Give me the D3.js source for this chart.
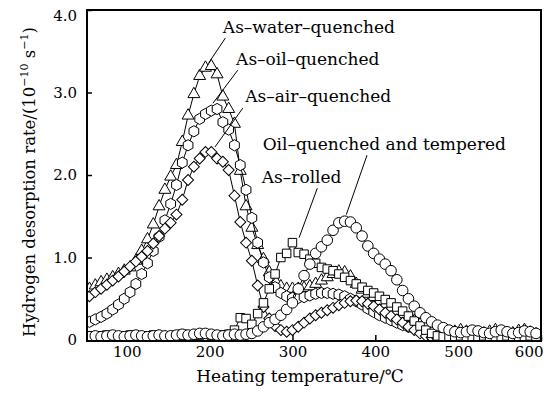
<!DOCTYPE html>
<html>
<head>
<meta charset="utf-8">
<script src="https://cdn.jsdelivr.net/npm/d3@7"></script>
<style>
  body { margin: 0; background: #fff; }
  text { font-family: "DejaVu Serif", serif; fill: #000; }
</style>
</head>
<body>
<div id="container"></div>
<script>
/* CONSTANTS AND GLOBALS */
const width = 544,
  height = 396,
  margin = { top: 10, bottom: 56, left: 87, right: 3 };

/* DATA */
const temps = [
  55, 62, 69, 76, 83, 90, 97, 104, 111, 118,
  125, 132, 139, 146, 153, 160, 167, 174, 181, 188,
  195, 202, 209, 216, 223, 230, 237, 244, 251, 258,
  265, 272, 279, 286, 293, 300, 307, 314, 321, 328,
  335, 342, 349, 356, 363, 370, 377, 384, 391, 398,
  405, 412, 419, 426, 433, 440, 447, 454, 461, 468,
  475, 482, 489, 496, 503, 510, 517, 524, 531, 538,
  545, 552, 559, 566, 573, 580, 587, 594
];

const waterQuenched = [
  0.62, 0.66, 0.70, 0.73, 0.76, 0.80, 0.84, 0.88, 0.96, 1.08,
  1.22, 1.40, 1.62, 1.82, 1.98, 2.12, 2.40, 2.72, 2.98, 3.20,
  3.30, 3.32, 3.22, 2.95, 2.80, 2.62, 2.05, 1.62, 1.36, 1.15,
  0.98, 0.82, 0.72, 0.65, 0.62, 0.62, 0.62, 0.63, 0.65, 0.68,
  0.72, 0.76, 0.80, 0.83, 0.82, 0.77, 0.68, 0.61, 0.56, 0.52,
  0.47, 0.43, 0.39, 0.35, 0.31, 0.27, 0.23, 0.19, 0.16, 0.13,
  0.11, 0.10, 0.09, 0.10, 0.12, 0.10, 0.08, 0.07, 0.08, 0.10,
  0.12, 0.09, 0.07, 0.08, 0.11, 0.12, 0.09, 0.07
];

const oilQuenched = [
  0.22, 0.25, 0.28, 0.32, 0.37, 0.43, 0.50, 0.58, 0.68, 0.80,
  0.93, 1.08, 1.25, 1.45, 1.65, 1.88, 2.15, 2.36, 2.53, 2.68,
  2.74, 2.78, 2.80, 2.64, 2.55, 2.36, 2.12, 1.82, 1.48, 1.18,
  0.94, 0.76, 0.64, 0.57, 0.53, 0.51, 0.51, 0.52, 0.54, 0.56,
  0.57, 0.57, 0.56, 0.55, 0.53, 0.50, 0.47, 0.43, 0.38, 0.34,
  0.30, 0.27, 0.24, 0.21, 0.18, 0.16, 0.14, 0.12, 0.10, 0.09,
  0.08, 0.07, 0.06, 0.07, 0.08, 0.06, 0.05, 0.06, 0.07, 0.06,
  0.05, 0.06, 0.07, 0.06, 0.05, 0.06, 0.07, 0.06
];

const airQuenched = [
  0.53, 0.58, 0.62, 0.67, 0.72, 0.77, 0.83, 0.89, 0.95, 1.01,
  1.08, 1.17, 1.26, 1.35, 1.42, 1.52, 1.70, 1.94, 2.10, 2.20,
  2.28, 2.28, 2.20, 2.16, 2.06, 1.75, 1.43, 1.18, 0.96, 0.66,
  0.40, 0.26, 0.17, 0.12, 0.10, 0.12, 0.16, 0.21, 0.26, 0.30,
  0.33, 0.36, 0.39, 0.42, 0.45, 0.47, 0.48, 0.47, 0.44, 0.41,
  0.37, 0.33, 0.29, 0.25, 0.21, 0.16, 0.12, 0.08, 0.05, 0.03,
  0.02, 0.02, 0.03, 0.05, 0.04, 0.03, 0.04, 0.06, 0.05, 0.04,
  0.05, 0.07, 0.06, 0.04, 0.05, 0.08, 0.06, 0.05
];

const asRolled = [
  0.05, 0.04, 0.05, 0.06, 0.05, 0.04, 0.05, 0.06, 0.05, 0.04,
  0.05, 0.06, 0.05, 0.04, 0.05, 0.06, 0.07, 0.06, 0.05, 0.06,
  0.07, 0.06, 0.05, 0.06, 0.07, 0.12, 0.27, 0.26, 0.19, 0.32,
  0.45, 0.62, 0.80, 1.00, 1.05, 1.18, 1.06, 1.04, 0.98, 0.93,
  0.88, 0.86, 0.84, 0.80, 0.76, 0.72, 0.68, 0.64, 0.60, 0.57,
  0.53, 0.49, 0.45, 0.40, 0.35, 0.29, 0.23, 0.17, 0.12, 0.08,
  0.05, 0.04, 0.03, 0.04, 0.05, 0.04, 0.03, 0.04, 0.05, 0.04,
  0.03, 0.04, 0.05, 0.04, 0.03, 0.04, 0.05, 0.04
];

const tempered = [
  0.04, 0.05, 0.04, 0.05, 0.06, 0.05, 0.04, 0.05, 0.06, 0.05,
  0.04, 0.05, 0.06, 0.05, 0.05, 0.06, 0.07, 0.06, 0.07, 0.08,
  0.08, 0.07, 0.06, 0.05, 0.06, 0.07, 0.06, 0.07, 0.08, 0.11,
  0.16, 0.21, 0.25, 0.30, 0.37, 0.45, 0.62, 0.78, 0.92, 1.05,
  1.13, 1.21, 1.33, 1.42, 1.44, 1.43, 1.36, 1.26, 1.14, 1.05,
  0.98, 0.92, 0.84, 0.73, 0.60, 0.50, 0.41, 0.33, 0.27, 0.22,
  0.18, 0.15, 0.12, 0.10, 0.09, 0.10, 0.12, 0.11, 0.09, 0.08,
  0.10, 0.12, 0.10, 0.08, 0.09, 0.11, 0.10, 0.08
];

const xTicks = [100, 200, 300, 400, 500, 600];
const yTicks = [0, 1, 2, 3, 4];

/* hexagon marker path */
const hexagon = (() => {
  const r = 5.6, p = d3.path();
  for (let i = 0; i < 6; i++) {
    const a = Math.PI / 6 + i * Math.PI / 3;
    if (i === 0) p.moveTo(r * Math.cos(a), r * Math.sin(a));
    else p.lineTo(r * Math.cos(a), r * Math.sin(a));
  }
  p.closePath();
  return p.toString();
})();

const series = [
  { values: waterQuenched, path: d3.symbol(d3.symbolTriangle, 62)(), rotate: 0 },
  { values: oilQuenched, path: hexagon, rotate: 0 },
  { values: airQuenched, path: d3.symbol(d3.symbolSquare, 60)(), rotate: 45 },
  { values: asRolled, path: d3.symbol(d3.symbolSquare, 72)(), rotate: 0 },
  { values: tempered, path: d3.symbol(d3.symbolCircle, 88)(), rotate: 0 }
];

/* annotations: text anchor and leader line, in data units */
const notes = [
  { text: "As–water–quenched", t: 216, v: 3.72, from: [219, 3.66], to: [199, 3.36] },
  { text: "As–oil–quenched", t: 232, v: 3.33, from: [234, 3.27], to: [204, 2.87] },
  { text: "As–air–quenched", t: 243, v: 2.88, from: [240, 2.81], to: [206.5, 2.34] },
  { text: "Oil–quenched and tempered", t: 264, v: 2.30, from: [390, 2.24], to: [365, 1.52] },
  { text: "As–rolled", t: 263, v: 1.90, from: [330, 1.84], to: [308, 1.24] }
];

/* SCALES */
const xScale = d3.scaleLinear()
  .domain([52, 600])
  .range([margin.left, width - margin.right]);

const yScale = d3.scaleLinear()
  .domain([0, 4])
  .range([height - margin.bottom, margin.top]);

/* HTML ELEMENTS */
const svg = d3.select("#container")
  .append("svg")
  .attr("width", width)
  .attr("height", height);

svg.append("clipPath")
  .attr("id", "plot")
  .append("rect")
  .attr("x", xScale(52))
  .attr("y", yScale(4))
  .attr("width", xScale(600) - xScale(52))
  .attr("height", yScale(0) - yScale(4) + 1);

const xAxis = d3.axisBottom(xScale)
  .tickValues(xTicks)
  .tickSizeInner(-6)
  .tickSizeOuter(0)
  .tickPadding(5)
  .tickFormat(d3.format("d"));

svg.append("g")
  .attr("transform", `translate(0,${yScale(0) + 1})`)
  .call(xAxis)
  .call(g => g.select(".domain").remove())
  .call(g => g.selectAll("line").attr("stroke-width", 1.5))
  .call(g => g.selectAll("text").attr("font-size", 15).attr("font-family", "DejaVu Serif"))
  .call(g => g.selectAll(".tick").filter(d => d === 600).select("text")
    .attr("text-anchor", "end").attr("x", 2));

const yAxis = d3.axisLeft(yScale)
  .tickValues(yTicks)
  .tickSizeInner(-5)
  .tickSizeOuter(0)
  .tickPadding(10)
  .tickFormat(d => d === 0 ? "0" : d3.format(".1f")(d));

svg.append("g")
  .attr("transform", `translate(${xScale(52)},0)`)
  .call(yAxis)
  .call(g => g.select(".domain").remove())
  .call(g => g.selectAll("line").attr("stroke-width", 1.5))
  .call(g => g.selectAll("text").attr("font-size", 15).attr("font-family", "DejaVu Serif"))
  .call(g => g.selectAll(".tick").filter(d => d === 4).select("text").attr("y", 6));

/* series */
const plot = svg.append("g").attr("clip-path", "url(#plot)");

const line = d3.line()
  .x((d, i) => xScale(temps[i]))
  .y(d => yScale(d));

series.forEach(s => {
  const g = plot.append("g");
  g.append("path")
    .attr("d", line(s.values))
    .attr("fill", "none")
    .attr("stroke", "#000")
    .attr("stroke-width", 1);
  g.selectAll("path.mark")
    .data(s.values)
    .join("path")
    .attr("class", "mark")
    .attr("d", s.path)
    .attr("transform", (d, i) => `translate(${xScale(temps[i])},${yScale(d)}) rotate(${s.rotate})`)
    .attr("fill", "#fff")
    .attr("stroke", "#000")
    .attr("stroke-width", 1);
});

/* frame */
svg.append("rect")
  .attr("x", xScale(52))
  .attr("y", yScale(4))
  .attr("width", xScale(600) - xScale(52))
  .attr("height", yScale(0) - yScale(4) + 1)
  .attr("fill", "none")
  .attr("stroke", "#000")
  .attr("stroke-width", 2);

/* annotations */
svg.selectAll("line.leader")
  .data(notes)
  .join("line")
  .attr("class", "leader")
  .attr("x1", d => xScale(d.from[0]))
  .attr("y1", d => yScale(d.from[1]))
  .attr("x2", d => xScale(d.to[0]))
  .attr("y2", d => yScale(d.to[1]))
  .attr("stroke", "#000")
  .attr("stroke-width", 1);

svg.selectAll("text.note")
  .data(notes)
  .join("text")
  .attr("class", "note")
  .attr("x", d => xScale(d.t))
  .attr("y", d => yScale(d.v))
  .attr("font-size", 17)
  .text(d => d.text);

/* axis titles */
svg.append("text")
  .attr("x", 300)
  .attr("y", 382)
  .attr("text-anchor", "middle")
  .attr("font-size", 17)
  .text("Heating temperature/℃");

const yTitle = svg.append("text")
  .attr("transform", "translate(35,182) rotate(-90)")
  .attr("text-anchor", "middle")
  .attr("font-size", 16.5);
yTitle.append("tspan").text("Hydrogen desorption rate/(10");
yTitle.append("tspan").attr("dy", -7).attr("font-size", 11).text("−10");
yTitle.append("tspan").attr("dy", 7).text(" s");
yTitle.append("tspan").attr("dy", -7).attr("font-size", 11).text("−1");
yTitle.append("tspan").attr("dy", 7).text(")");
</script>
</body>
</html>
